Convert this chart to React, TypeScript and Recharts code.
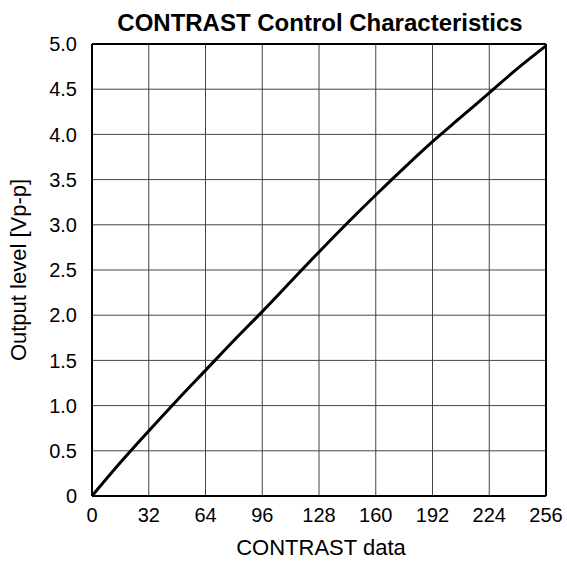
import React from "react";
import {
  LineChart,
  Line,
  XAxis,
  YAxis,
  CartesianGrid,
  ReferenceLine,
  Label,
} from "recharts";

// contrast data (0..256) vs output level [Vp-p]
const contrastData = [0, 16, 32, 48, 64, 80, 96, 112, 128, 144, 160, 176, 192, 208, 224, 240, 256];
const outputLevel = [0, 0.37, 0.72, 1.06, 1.39, 1.72, 2.04, 2.37, 2.7, 3.02, 3.33, 3.63, 3.92, 4.19, 4.46, 4.73, 4.98];

const xTicks = [0, 32, 64, 96, 128, 160, 192, 224, 256];
const yTicks = [0, 0.5, 1, 1.5, 2, 2.5, 3, 3.5, 4, 4.5, 5];

const data = contrastData.map((x, i) => ({ x, y: outputLevel[i] }));

const FONT = '"Liberation Sans", Arial, sans-serif';

export default function App() {
  return (
    <div
      style={{
        position: "absolute",
        left: 0,
        top: 0,
        width: 567,
        height: 561,
        background: "#fff",
        fontFamily: FONT,
      }}
    >
      <div
        style={{
          position: "absolute",
          left: 0,
          width: 640,
          top: 10,
          textAlign: "center",
          fontWeight: "bold",
          fontSize: 24,
          lineHeight: "26px",
          color: "#000",
        }}
      >
        CONTRAST Control Characteristics
      </div>
      <LineChart
        width={567}
        height={561}
        data={data}
        margin={{ top: 44, right: 21, left: 0, bottom: 0 }}
      >
        <CartesianGrid stroke="#444" strokeWidth={1} />
        <XAxis
          dataKey="x"
          type="number"
          domain={[0, 256]}
          ticks={xTicks}
          interval={0}
          height={65}
          tickLine={false}
          tickSize={0}
          tickMargin={12}
          axisLine={{ stroke: "#000", strokeWidth: 2 }}
          tick={{ fill: "#000", fontSize: 20, fontFamily: FONT }}
        >
          <Label
            value="CONTRAST data"
            position="insideBottom"
            offset={6}
            dx={2}
            fill="#000"
            fontSize={22}
            fontFamily={FONT}
          />
        </XAxis>
        <YAxis
          type="number"
          domain={[0, 5]}
          ticks={yTicks}
          interval={0}
          width={92}
          tickLine={false}
          tickSize={0}
          tickMargin={15}
          axisLine={{ stroke: "#000", strokeWidth: 2 }}
          tickFormatter={(v: number) => (v === 0 ? "0" : v.toFixed(1))}
          tick={{ fill: "#000", fontSize: 20, fontFamily: FONT }}
        >
          <Label
            value="Output level [Vp-p]"
            angle={-90}
            position="center"
            dx={-28}
            fill="#000"
            fontSize={22}
            fontFamily={FONT}
          />
        </YAxis>
        <ReferenceLine y={5} stroke="#000" strokeWidth={2} />
        <ReferenceLine x={256} stroke="#000" strokeWidth={2} />
        <Line
          type="monotone"
          dataKey="y"
          stroke="#000"
          strokeWidth={3}
          dot={false}
          isAnimationActive={false}
        />
      </LineChart>
    </div>
  );
}
